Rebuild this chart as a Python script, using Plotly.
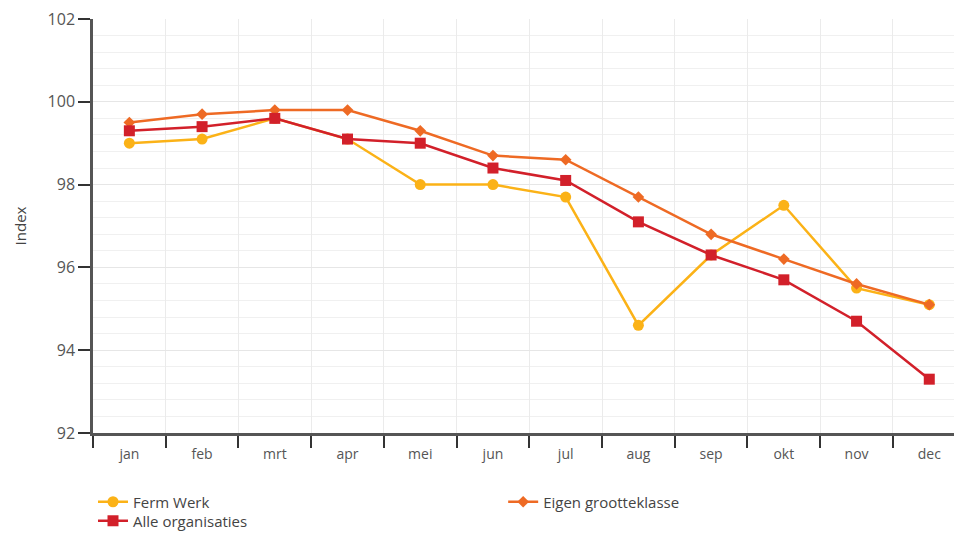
import plotly.graph_objects as go

months = ["jan", "feb", "mrt", "apr", "mei", "jun", "jul", "aug", "sep", "okt", "nov", "dec"]
ferm_werk = [99.0, 99.1, 99.6, 99.1, 98.0, 98.0, 97.7, 94.6, 96.3, 97.5, 95.5, 95.1]
eigen_grootteklasse = [99.5, 99.7, 99.8, 99.8, 99.3, 98.7, 98.6, 97.7, 96.8, 96.2, 95.6, 95.1]
alle_organisaties = [99.3, 99.4, 99.6, 99.1, 99.0, 98.4, 98.1, 97.1, 96.3, 95.7, 94.7, 93.3]
y_ticks = [92, 94, 96, 98, 100, 102]

fig = go.Figure()
fig.add_trace(go.Scatter(x=months, y=ferm_werk, name="Ferm Werk", mode="lines+markers",
                         line=dict(color="#FBB217", width=2.5), legend="legend",
                         marker=dict(symbol="circle", size=11, color="#FBB217")))
fig.add_trace(go.Scatter(x=months, y=eigen_grootteklasse, name="Eigen grootteklasse", mode="lines+markers",
                         line=dict(color="#EE6A24", width=2.5), legend="legend2",
                         marker=dict(symbol="diamond", size=9, color="#EE6A24")))
fig.add_trace(go.Scatter(x=months, y=alle_organisaties, name="Alle organisaties", mode="lines+markers",
                         line=dict(color="#D2202A", width=2.5), legend="legend3",
                         marker=dict(symbol="square", size=11, color="#D2202A")))

legend_common = dict(orientation="v", xanchor="left", yanchor="middle",
                     traceorder="normal", font=dict(size=15, color="#444444"),
                     tracegroupgap=0, itemwidth=30, bgcolor="rgba(0,0,0,0)")

fig.update_layout(
    width=954, height=525,
    margin=dict(l=85, r=0, t=11, b=100, autoexpand=False),
    paper_bgcolor="white", plot_bgcolor="white",
    font=dict(family="Open Sans, Liberation Sans, sans-serif", color="#555555", size=13),
    showlegend=True,
    legend=dict(x=0.0, y=-0.1667, **legend_common),
    legend2=dict(x=0.472, y=-0.1667, **legend_common),
    legend3=dict(x=0.0, y=-0.2126, **legend_common),
    xaxis=dict(type="category", range=[-0.5, 11.45], tickson="boundaries", automargin=False,
               showgrid=True, gridcolor="#ebebeb", gridwidth=1,
               ticks="outside", ticklen=12, tickwidth=2, tickcolor="#333333",
               showline=True, linecolor="#555555", linewidth=2.5, ticklabelstandoff=6,
               tickfont=dict(size=14, color="#555555"), zeroline=False,
               ticklabeloverflow="allow"),
    yaxis=dict(range=[92, 102], tickvals=y_ticks, showgrid=True, gridcolor="#e6e6e6", automargin=False,
               ticks="outside", ticklen=12, tickwidth=2, tickcolor="#333333",
               showline=True, linecolor="#555555", linewidth=2.5,
               tickfont=dict(size=16, color="#555555"), zeroline=False,
               ticklabeloverflow="allow",
               minor=dict(dtick=0.4, showgrid=True, gridcolor="#f0f0f0", ticks=""),
               title=dict(text="Index", font=dict(size=15, color="#444444"), standoff=18)),
)

fig.write_html("out.html")
